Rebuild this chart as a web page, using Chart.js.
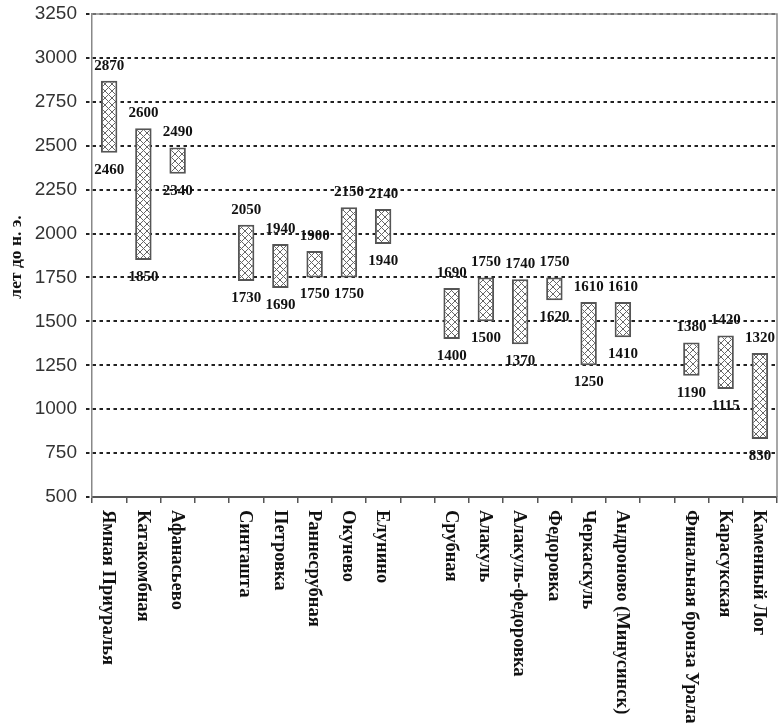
<!DOCTYPE html>
<html lang="ru">
<head>
    <meta charset="UTF-8">
    <title>Датировки культур</title>
    <script src="https://cdn.jsdelivr.net/npm/chart.js"></script>
    <style>
        html, body { margin: 0; padding: 0; background: #fff; }
        #wrap { width: 778px; height: 723px; }
    </style>
</head>
<body>
    <div id="wrap"><canvas id="chart"></canvas></div>

    <script>
        // categories (empty strings are the gaps between groups)
        const cultures = [
            'Ямная Приуралья', 'Катакомбная', 'Афанасьево', '',
            'Синташта', 'Петровка', 'Раннесрубная', 'Окунево', 'Елунино', '',
            'Срубная', 'Алакуль', 'Алакуль-федоровка', 'Федоровка', 'Черкаскуль', 'Андроново (Минусинск)', '',
            'Финальная бронза Урала', 'Карасукская', 'Каменный Лог'
        ];
        // years BC: start (older) and end
        const startYears = [2870, 2600, 2490, null, 2050, 1940, 1900, 2150, 2140, null,
            1690, 1750, 1740, 1750, 1610, 1610, null, 1380, 1420, 1320];
        const endYears = [2460, 1850, 2340, null, 1730, 1690, 1750, 1750, 1940, null,
            1400, 1500, 1370, 1620, 1250, 1410, null, 1190, 1115, 830];
        const yTicks = [500, 750, 1000, 1250, 1500, 1750, 2000, 2250, 2500, 2750, 3000, 3250];

        const ranges = startYears.map((s, i) => s === null ? null : [endYears[i], s]);

        // crosshatch fill
        function hatch() {
            const c = document.createElement('canvas');
            c.width = 7; c.height = 7;
            const g = c.getContext('2d');
            g.fillStyle = '#fff';
            g.fillRect(0, 0, 7, 7);
            g.strokeStyle = '#666';
            g.lineWidth = 1;
            g.beginPath();
            g.moveTo(0, 0); g.lineTo(7, 7);
            g.moveTo(7, 0); g.lineTo(0, 7);
            g.stroke();
            return g.createPattern(c, 'repeat');
        }

        const serifBold = 'bold 15px "Liberation Serif", "Times New Roman", serif';

        const extras = {
            id: 'extras',
            afterDraw(chart) {
                const ctx = chart.ctx;
                const area = chart.chartArea;
                const xs = chart.scales.x;
                const ys = chart.scales.y;
                ctx.save();
                // frame top and right
                ctx.strokeStyle = '#8a8a8a';
                ctx.lineWidth = 1.5;
                ctx.beginPath();
                ctx.moveTo(area.left, area.top);
                ctx.lineTo(area.right, area.top);
                ctx.lineTo(area.right, area.bottom);
                ctx.stroke();

                // value labels
                ctx.fillStyle = '#111';
                ctx.font = serifBold;
                ctx.textAlign = 'center';
                ctx.textBaseline = 'middle';
                ranges.forEach((r, i) => {
                    if (!r) return;
                    const x = xs.getPixelForValue(i);
                    ctx.fillText(String(r[1]), x, ys.getPixelForValue(r[1]) - 15);
                    ctx.fillText(String(r[0]), x, ys.getPixelForValue(r[0]) + 17);
                });

                // category labels, rotated clockwise
                ctx.font = 'bold 18.5px "Liberation Serif", "Times New Roman", serif';
                ctx.textAlign = 'left';
                cultures.forEach((name, i) => {
                    if (!name) return;
                    ctx.save();
                    ctx.translate(xs.getPixelForValue(i) - 1, area.bottom + 13);
                    ctx.rotate(Math.PI / 2);
                    ctx.fillText(name, 0, 0);
                    ctx.restore();
                });

                // axis title
                ctx.font = 'bold 17.5px "Liberation Serif", "Times New Roman", serif';
                ctx.textAlign = 'center';
                ctx.translate(16, 257);
                ctx.rotate(-Math.PI / 2);
                ctx.fillText('лет до н. э.', 0, 0);
                ctx.restore();
            }
        };

        new Chart(document.getElementById('chart'), {
            type: 'bar',
            data: {
                labels: cultures,
                datasets: [{
                    data: ranges,
                    backgroundColor: hatch(),
                    borderColor: '#555',
                    borderWidth: 2,
                    borderSkipped: false,
                    barPercentage: 0.48,
                    categoryPercentage: 1
                }]
            },
            options: {
                responsive: true,
                maintainAspectRatio: false,
                animation: false,
                layout: { padding: { top: 14, right: 1, left: 0, bottom: 0 } },
                plugins: {
                    legend: { display: false },
                    tooltip: { enabled: false }
                },
                scales: {
                    x: {
                        offset: true,
                        grid: {
                            offset: true,
                            drawOnChartArea: false,
                            drawTicks: true,
                            tickLength: 6,
                            color: '#555',
                            lineWidth: 1.5
                        },
                        border: { color: '#555', width: 2 },
                        ticks: { display: false },
                        afterFit: s => { s.height = 226; }
                    },
                    y: {
                        min: 500,
                        max: 3250,
                        afterBuildTicks: s => { s.ticks = yTicks.map(v => ({ value: v })); },
                        grid: {
                            color: '#222',
                            lineWidth: 2,
                            tickLength: 6,
                            tickColor: '#222',
                            tickWidth: 2,
                            tickBorderDash: [3.5, 3.5]
                        },
                        border: { color: '#888', width: 1.5, dash: [3.5, 3.5] },
                        ticks: {
                            padding: 9,
                            color: '#333',
                            font: { family: '"Liberation Sans", Arial, sans-serif', size: 19 },
                            callback: v => String(v)
                        },
                        afterFit: s => { s.width = 92; s.paddingTop = 0; s.paddingBottom = 0; }
                    }
                }
            },
            plugins: [extras]
        });
    </script>
</body>
</html>
